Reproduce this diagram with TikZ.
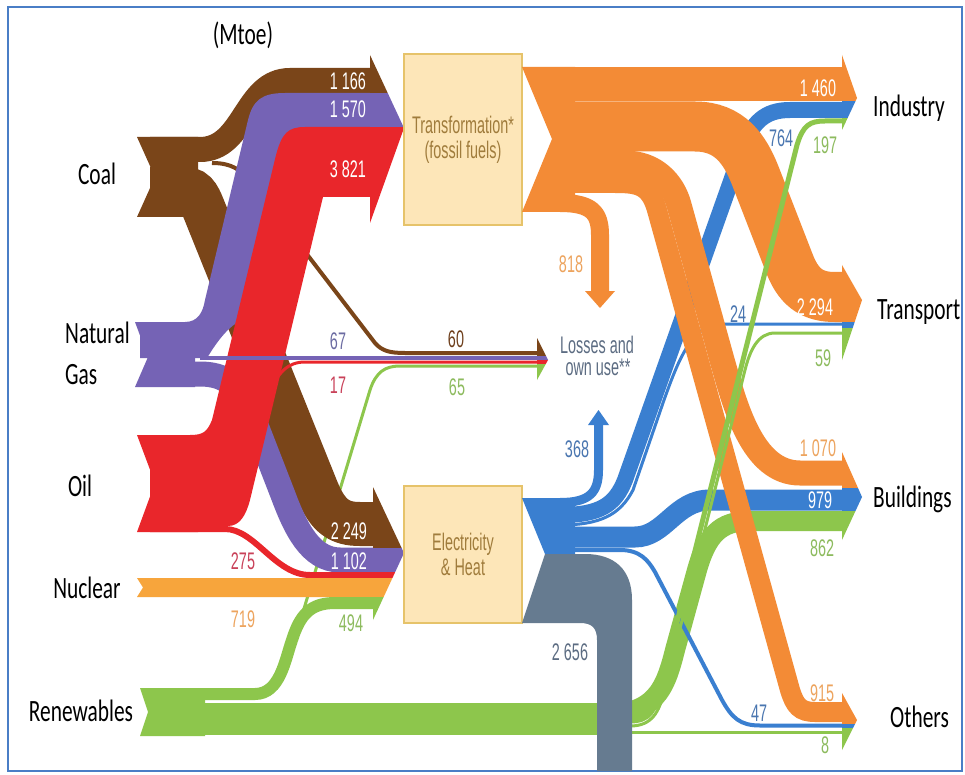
\documentclass[tikz,border=0pt]{standalone}
\usepackage{fontspec}
\setmainfont{Liberation Sans}
\newfontfamily\lblfont[FakeStretch=0.69]{Carlito}
\newfontfamily\numfont[FakeStretch=0.6]{Liberation Sans}
\definecolor{coalbrown}{HTML}{7A4519}
\definecolor{gaspurple}{HTML}{7563B5}
\definecolor{oilred}{HTML}{E9262B}
\definecolor{nucorange}{HTML}{F7A53C}
\definecolor{renewgreen}{HTML}{8DC64C}
\definecolor{fuelorange}{HTML}{F38B36}
\definecolor{elecblue}{HTML}{3A7FD0}
\definecolor{heatgrey}{HTML}{667B90}
\definecolor{boxfill}{HTML}{FDE6B8}
\definecolor{boxedge}{HTML}{E6C36A}
\definecolor{boxtext}{HTML}{A07C3C}
\definecolor{frameblue}{HTML}{4A7EC6}
\definecolor{txtorange}{HTML}{EDA45E}
\definecolor{txtblue}{HTML}{4A76B0}
\definecolor{txtgreen}{HTML}{8DBB5E}
\definecolor{txtbrown}{HTML}{6E3F1C}
\definecolor{txtpurple}{HTML}{6C6CA2}
\definecolor{txtred}{HTML}{C94159}
\definecolor{txtgrey}{HTML}{5C6C82}
\tikzset{
  lbl/.style={font=\lblfont\fontsize{31}{36}\selectfont, inner sep=0pt, text height=20pt, text depth=0pt},
  num/.style={font=\numfont\fontsize{24}{26}\selectfont, inner sep=0pt, text height=17pt, text depth=0pt},
  stage/.style={draw=boxedge, fill=boxfill, line width=1.5pt, text=boxtext, align=center,
    font=\numfont\fontsize{24}{25}\selectfont},
}
\begin{document}
\begin{tikzpicture}[x=1pt, y=-1pt]
\useasboundingbox (0,0) rectangle (965,775);
\fill[white] (0,0) rectangle (965,775);
\draw[frameblue, line width=2pt] (8,7) rectangle (962,771);

% primary sources
\draw[renewgreen, line width=3pt] (303,612) -- (370,390) .. controls (376,372) and (385,366) .. (400,366) -- (539,366);
\draw[coalbrown, line width=4pt] (212,163) .. controls (232,163) and (240,170) .. (250,180) -- (375,343) .. controls (382,351) and (390,353) .. (405,353) -- (539,353);
\draw[coalbrown, line width=44pt] (150,189) -- (185,189) .. controls (197,189) and (200,200) .. (205,212) -- (317,490) .. controls (328,517) and (340,524) .. (360,524) -- (375,524);
\draw[coalbrown, line width=25pt] (150,149.5) -- (200,149.5) .. controls (245,149.5) and (245,80.5) .. (290,80.5) -- (372,80.5);
\fill[coalbrown] (137,137) -- (198,137) -- (198,217) -- (137,217) -- (155,177) -- cycle;
\draw[gaspurple, line width=25pt] (150,374) -- (200,374) .. controls (225,374) and (238,385) .. (250,410) -- (283,495) .. controls (295,527) and (310,560) .. (340,560) -- (375,560);
\fill[gaspurple] (140,322) -- (185,322) .. controls (198,322) and (203,312) .. (205,300) -- (248,120) .. controls (253,100) and (262,93) .. (285,93) -- (372,93) -- (372,140) -- (300,140) -- (262,300) -- (238,322) .. controls (225,330) and (215,345) .. (207,358) -- (140,358) -- cycle;
\fill[gaspurple] (135,322) -- (195,322) -- (195,387) -- (135,387) -- (148,357) -- cycle;
\fill[oilred] (150,435) -- (190,435) .. controls (203,435) and (207,432) .. (212,420) -- (276,155) .. controls (282,133) and (288,127) .. (305,127) -- (372,127) -- (372,197) -- (323,197) -- (250,500) .. controls (246,515) and (240,526) .. (228,526) -- (150,526) -- cycle;
\fill[oilred] (137,435) -- (198,435) -- (198,532) -- (137,532) -- (155,483) -- cycle;
\draw[oilred, line width=6pt] (150,529) -- (225,529) .. controls (255,529) and (275,575) .. (310,575) -- (375,575);
\draw[gaspurple, line width=4pt] (200,358) -- (539,358);
\draw[oilred, line width=3pt] (268,395) .. controls (278,372) and (288,362) .. (305,362) -- (539,362);
\fill[nucorange] (137,578) -- (375,578) -- (375,597) -- (137,597) -- (143,587.5) -- cycle;
\draw[renewgreen, line width=32pt] (150,719) -- (620,719);
\draw[renewgreen, line width=12pt] (150,694) -- (255,694) .. controls (280,694) and (285,660) .. (292,640) .. controls (300,615) and (310,603) .. (335,603) -- (375,603);
\fill[renewgreen] (140,688) -- (205,688) -- (205,736) -- (140,736) -- (148,712) -- cycle;

\begin{scope}
  \clip (370,55) -- (404,128) -- (370,223) -- cycle;
  \fill[coalbrown] (365,50) rectangle (410,93);
  \fill[gaspurple] (365,93) rectangle (410,127);
  \fill[oilred] (365,127) rectangle (410,230);
\end{scope}
\begin{scope}
  \clip (373,487) -- (404,553) -- (373,620) -- cycle;
  \fill[coalbrown] (370,480) rectangle (410,548);
  \fill[gaspurple] (370,548) rectangle (410,572);
  \fill[oilred] (370,572) rectangle (410,578);
  \fill[nucorange] (370,578) rectangle (410,597);
  \fill[renewgreen] (370,597) rectangle (410,625);
\end{scope}
\begin{scope}
  \clip (537,338) -- (548,360) -- (537,380) -- cycle;
  \fill[coalbrown] (535,335) rectangle (550,355.5);
  \fill[gaspurple] (535,355.5) rectangle (550,360);
  \fill[oilred] (535,360) rectangle (550,364);
  \fill[renewgreen] (535,364) rectangle (550,385);
\end{scope}

\node[stage, minimum width=118pt, minimum height=171pt] (trans) at (463,139.5) {Transformation*\\(fossil fuels)};
\node[stage, minimum width=118pt, minimum height=137pt] (elec) at (463,554.5) {Electricity\\\& Heat};

% final uses
\draw[renewgreen, line width=20pt] (600,715) .. controls (655,715) and (665,690) .. (675,650) -- (697,570) .. controls (707,535) and (720,521) .. (750,521) -- (845,521);
\draw[elecblue, line width=21pt] (560,537) -- (635,537) .. controls (665,537) and (675,500) .. (710,500) -- (845,500);
\draw[elecblue, line width=4pt] (560,550) -- (620,550) .. controls (640,550) and (648,560) .. (655,572) -- (722,700) .. controls (732,718) and (740,725.5) .. (760,725.5) -- (845,725.5);
\draw[elecblue, line width=3pt] (560,525) .. controls (600,525) and (620,515) .. (633,490) -- (664,400) .. controls (675,370) and (690,324) .. (720,324) -- (845,324);
\draw[elecblue, line width=16pt] (560,515) .. controls (600,515) and (615,505) .. (625,480) -- (742,150) .. controls (752,122) and (765,110) .. (790,110) -- (845,110);
\draw[elecblue, line width=9pt] (560,502.5) .. controls (590,502.5) and (598.5,492) .. (598.5,470) -- (598.5,424);
\fill[elecblue] (588,425) -- (609,425) -- (598.5,410) -- cycle;
\fill[elecblue] (522,498) -- (575,498) -- (575,554) -- (545,554) -- cycle;

\draw[fuelorange, line width=20pt] (570,183) -- (615,183) .. controls (638,183) and (650,185) .. (657,210) -- (790,690) .. controls (795,706) and (800,712) .. (815,712) -- (845,712);
\draw[fuelorange, line width=25pt] (570,163) -- (625,163) .. controls (655,163) and (673,183) .. (679,205) -- (722,360) .. controls (735,405) and (752,473) .. (800,473) -- (845,473);
\draw[fuelorange, line width=50pt] (570,126.5) -- (695,126.5) .. controls (730,126.5) and (745,150) .. (755,175) -- (790,265) .. controls (800,290) and (815,297) .. (835,297) -- (845,297);
\draw[fuelorange, line width=18pt] (560,203) .. controls (592,203) and (600,213) .. (600,235) -- (600,293);
\fill[fuelorange] (585,291) -- (615,291) -- (600,308) -- cycle;
\fill[fuelorange] (570,67) rectangle (845,101.5);
\fill[fuelorange] (522,67) -- (575,67) -- (575,212) -- (522,212) -- (552,139) -- cycle;

\draw[renewgreen, line width=5pt] (630,721) .. controls (650,721) and (655,710) .. (660,690) -- (797,145) .. controls (803,125) and (810,121) .. (825,121) -- (845,121);
\draw[renewgreen, line width=3pt] (630,726) .. controls (652,726) and (659,712) .. (664,692) -- (745,370) .. controls (750,350) and (758,333) .. (775,333) -- (845,333);
\draw[renewgreen, line width=3pt] (600,732) -- (845,732);
\fill[heatgrey] (545,554) -- (585,554) .. controls (615,554) and (632,570) .. (632,600) -- (632,771) -- (597,771) -- (597,640) .. controls (597,628) and (592,623) .. (580,623) -- (522,623) -- cycle;

\begin{scope}
  \clip (842,55) -- (857,98) -- (842,130) -- cycle;
  \fill[fuelorange] (840,50) rectangle (860,101.5);
  \fill[elecblue] (840,101.5) rectangle (860,118.5);
  \fill[renewgreen] (840,118.5) rectangle (860,135);
\end{scope}
\begin{scope}
  \clip (842,265) -- (862,300) -- (842,360) -- cycle;
  \fill[fuelorange] (840,260) rectangle (865,321.5);
  \fill[elecblue] (840,321.5) rectangle (865,328);
  \fill[renewgreen] (840,328) rectangle (865,365);
\end{scope}
\begin{scope}
  \clip (842,452) -- (862,497) -- (842,540) -- cycle;
  \fill[fuelorange] (840,445) rectangle (865,488);
  \fill[elecblue] (840,488) rectangle (865,511);
  \fill[renewgreen] (840,511) rectangle (865,545);
\end{scope}
\begin{scope}
  \clip (842,693) -- (857,720) -- (842,750) -- cycle;
  \fill[fuelorange] (840,690) rectangle (860,723.5);
  \fill[elecblue] (840,723.5) rectangle (860,728);
  \fill[renewgreen] (840,728) rectangle (860,755);
\end{scope}

% labels
\node[lbl] (unit) at (243,35) {(Mtoe)};
\node[lbl] (coal) at (97,175) {Coal};
\node[lbl, anchor=west] (natural) at (65,333) {Natural};
\node[lbl, anchor=west] (gas) at (65,374) {Gas};
\node[lbl] (oil) at (80,486) {Oil};
\node[lbl] (nuclear) at (87,588) {Nuclear};
\node[lbl] (renew) at (81,711) {Renewables};
\node[lbl, anchor=west] (industry) at (873,107) {Industry};
\node[lbl, anchor=west] (transport) at (877,309) {Transport};
\node[lbl, anchor=west] (buildings) at (873,497) {Buildings};
\node[lbl, anchor=west] (others) at (890,717) {Others};

\node[num, text=white] (n1166) at (348,81) {1\,166};
\node[num, text=white] (n1570) at (348,109) {1\,570};
\node[num, text=white] (n3821) at (348,169) {3\,821};
\node[num, text=txtpurple] (n67) at (338,341) {67};
\node[num, text=txtred] (n17) at (338,385) {17};
\node[num, text=txtbrown] (n60) at (456,339) {60};
\node[num, text=txtgreen] (n65) at (457,387) {65};
\node[num, text=white] (n2249) at (349,531) {2\,249};
\node[num, text=white] (n1102) at (349,561) {1\,102};
\node[num, text=txtred] (n275) at (243,561) {275};
\node[num, text=txtorange] (n719) at (243,619) {719};
\node[num, text=txtgreen] (n494) at (351,623) {494};
\node[num, text=txtorange] (n818) at (571,264) {818};
\node[num, text=txtgrey] (loss1) at (597,345) {Losses and};
\node[num, text=txtgrey] (loss2) at (598,367) {own use**};
\node[num, text=txtblue] (n368) at (577,449) {368};
\node[num, text=txtgrey] (n2656) at (570,652) {2\,656};
\node[num, text=white] (n1460) at (818,88) {1\,460};
\node[num, text=txtblue] (n764) at (781,138) {764};
\node[num, text=txtgreen] (n197) at (825,145) {197};
\node[num, text=white] (n2294) at (815,307) {2\,294};
\node[num, text=txtblue] (n24) at (738,314) {24};
\node[num, text=txtgreen] (n59) at (823,358) {59};
\node[num, text=txtorange] (n1070) at (818,448) {1\,070};
\node[num, text=white] (n979) at (820,500) {979};
\node[num, text=txtgreen] (n862) at (822,548) {862};
\node[num, text=txtorange] (n915) at (822,693) {915};
\node[num, text=txtblue] (n47) at (759,713) {47};
\node[num, text=txtgreen] (n8) at (825,745) {8};
\end{tikzpicture}
\end{document}
